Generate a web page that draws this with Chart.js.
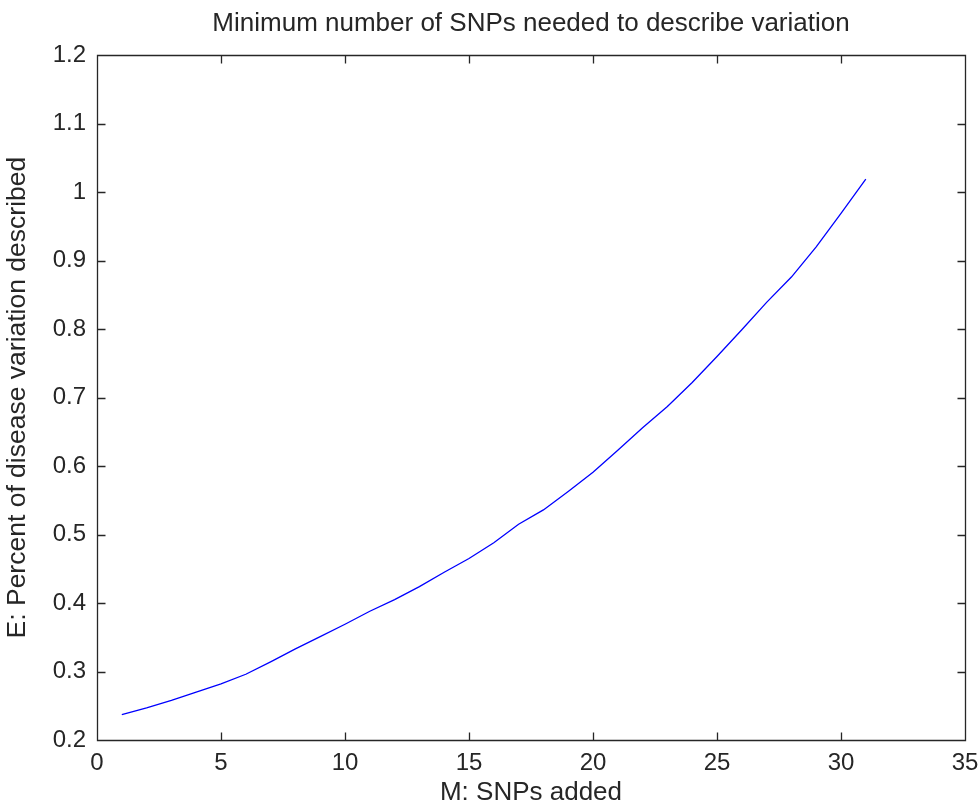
<!DOCTYPE html>
<html>
<head>
<meta charset="utf-8">
<script src="https://cdn.jsdelivr.net/npm/chart.js@4/dist/chart.umd.min.js"></script>
<style>
  html, body { margin: 0; padding: 0; background: #ffffff; }
  #wrap { width: 979px; height: 806px; position: relative; }
</style>
</head>
<body>
<div id="wrap"><canvas id="c" width="979" height="806"></canvas></div>
<script>
// ---- data ----
const snpsAdded = [1,2,3,4,5,6,7,8,9,10,11,12,13,14,15,16,17,18,19,20,21,22,23,24,25,26,27,28,29,30,31];
const percentDescribed = [0.237,0.247,0.258,0.270,0.282,0.296,0.314,0.333,0.351,0.369,0.388,0.405,0.424,0.445,0.465,0.488,0.515,0.536,0.563,0.591,0.623,0.656,0.687,0.722,0.760,0.799,0.839,0.876,0.920,0.969,1.019];
const xTicks = [0,5,10,15,20,25,30,35];
const yTicks = [0.2,0.3,0.4,0.5,0.6,0.7,0.8,0.9,1.0,1.1,1.2];
const chartTitle = 'Minimum number of SNPs needed to describe variation';
const xTitle = 'M: SNPs added';
const yTitle = 'E: Percent of disease variation described';

const FONT = "'Liberation Sans', Arial, Helvetica, sans-serif";
const INK = '#262626';

const boxTicks = {
  id: 'boxTicks',
  afterDatasetsDraw(chart) {
    const ctx = chart.ctx;
    const a = chart.chartArea;
    const xs = chart.scales.x, ys = chart.scales.y;
    const L = Math.round(a.left) + 0.5, R = Math.round(a.right) + 0.5;
    const T = Math.round(a.top) + 0.5, B = Math.round(a.bottom) + 0.5;
    const len = 8;
    ctx.save();
    ctx.strokeStyle = INK;
    ctx.lineWidth = 1.3;
    ctx.beginPath();
    ctx.rect(L, T, R - L, B - T);
    xTicks.forEach(v => {
      const px = Math.round(xs.getPixelForValue(v)) + 0.5;
      ctx.moveTo(px, B); ctx.lineTo(px, B - len);
      ctx.moveTo(px, T); ctx.lineTo(px, T + len);
    });
    yTicks.forEach(v => {
      const py = Math.round(ys.getPixelForValue(v)) + 0.5;
      ctx.moveTo(L, py); ctx.lineTo(L + len, py);
      ctx.moveTo(R, py); ctx.lineTo(R - len, py);
    });
    ctx.stroke();
    ctx.restore();
  }
};

new Chart(document.getElementById('c'), {
  type: 'line',
  data: {
    datasets: [{
      data: snpsAdded.map((x, i) => ({ x: x, y: percentDescribed[i] })),
      borderColor: '#0000ff',
      borderWidth: 1.3,
      pointRadius: 0,
      tension: 0,
      fill: false
    }]
  },
  options: {
    responsive: false,
    animation: false,
    devicePixelRatio: 1,
    layout: { padding: { left: 0, right: 14, top: 0, bottom: 0 } },
    plugins: {
      legend: { display: false },
      tooltip: { enabled: false },
      title: {
        display: true,
        fullSize: false,
        text: chartTitle,
        color: INK,
        font: { family: FONT, size: 26, weight: 'normal' },
        padding: { top: 8, bottom: 16 }
      }
    },
    scales: {
      x: {
        type: 'linear',
        min: 0, max: 35,
        afterBuildTicks(s) { s.ticks = xTicks.map(v => ({ value: v })); },
        afterFit(s) { s.height = 66; s.paddingRight = 0; s.paddingLeft = 0; },
        grid: { display: false, drawTicks: false },
        border: { display: false },
        ticks: { color: INK, font: { family: FONT, size: 24 }, padding: 9, maxRotation: 0,
                 callback: v => String(v) },
        title: { display: true, text: xTitle, color: INK,
                 font: { family: FONT, size: 26 }, padding: { top: 0, bottom: -2 } }
      },
      y: {
        type: 'linear',
        min: 0.2, max: 1.2,
        afterBuildTicks(s) { s.ticks = yTicks.map(v => ({ value: v })); },
        afterFit(s) { s.width = 97; s.paddingTop = 0; s.paddingBottom = 0; },
        grid: { display: false, drawTicks: false },
        border: { display: false },
        ticks: { color: INK, font: { family: FONT, size: 24 }, padding: 11,
                 callback: v => (Math.round(v * 10) / 10).toString() },
        title: { display: true, text: yTitle, color: INK,
                 font: { family: FONT, size: 26.5 }, padding: { top: 2, bottom: 0 } }
      }
    }
  },
  plugins: [boxTicks]
});
</script>
</body>
</html>
